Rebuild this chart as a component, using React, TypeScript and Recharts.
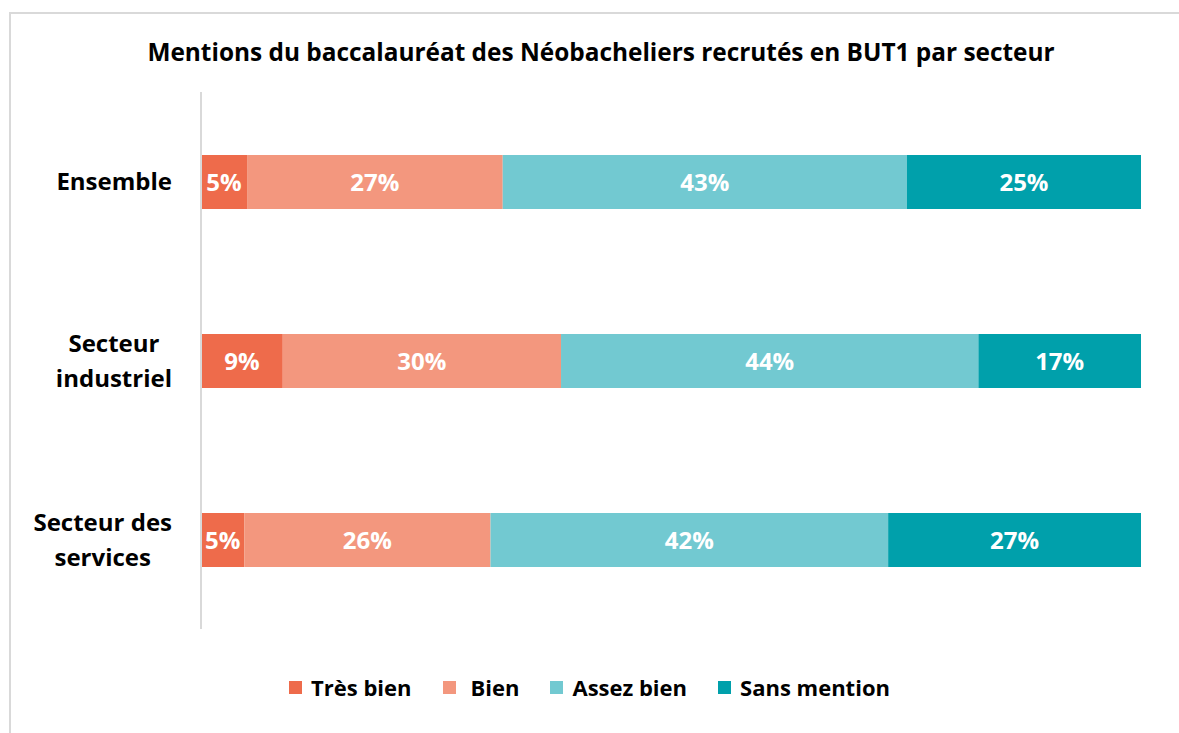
import React from 'react';
import { BarChart, Bar, XAxis, YAxis, LabelList } from 'recharts';

const title = 'Mentions du baccalauréat des Néobacheliers recrutés en BUT1 par secteur';
const categories = ['Ensemble', 'Secteur industriel', 'Secteur des services'];
const categoryLines = [['Ensemble'], ['Secteur', 'industriel'], ['Secteur des', 'services']];
const tresBien = [4.9, 8.7, 4.6];
const bien = [27.2, 29.6, 26.2];
const assezBien = [43.0, 44.4, 42.3];
const sansMention = [24.9, 17.3, 26.9];
const seriesNames = ['Très bien', 'Bien', 'Assez bien', 'Sans mention'];
const seriesKeys = ['tresBien', 'bien', 'assezBien', 'sansMention'];
const colors = ['#EE6B4B', '#F3977E', '#72C9D1', '#00A0AB'];

const data = categories.map((name, i) => ({
  name,
  tresBien: tresBien[i],
  bien: bien[i],
  assezBien: assezBien[i],
  sansMention: sansMention[i],
}));

const FONT = '"Open Sans", Lato, sans-serif';
const LABEL_SIZE = 24;

let ctx: CanvasRenderingContext2D | null = null;
function measure(text: string, font: string) {
  if (!ctx) ctx = document.createElement('canvas').getContext('2d');
  if (!ctx) return text.length * 12;
  ctx.font = font;
  return ctx.measureText(text).width;
}

const CategoryTick = (props: any) => {
  const { y, payload } = props;
  const idx = categories.indexOf(payload.value);
  const lines = categoryLines[idx] || [payload.value];
  const font = `bold ${LABEL_SIZE}px "Open Sans"`;
  const maxW = Math.max(...lines.map((l) => measure(l, font)));
  const cx = 172 - maxW / 2;
  const lh = 35;
  const startY = y - ((lines.length - 1) * lh) / 2;
  return (
    <text x={cx} y={startY} textAnchor="middle" fontFamily={FONT} fontWeight="bold" fontSize={LABEL_SIZE} fill="#000">
      {lines.map((l, i) => (
        <tspan key={i} x={cx} y={startY + i * lh} dy="0.36em">{l}</tspan>
      ))}
    </text>
  );
};

const fmt = (v: any) => `${Math.round(Number(v))}%`;

export default function App() {
  return (
    <div style={{ position: 'absolute', left: 0, top: 0, width: 1179, height: 733, overflow: 'hidden', background: '#fff', fontFamily: FONT }}>
      <div style={{ position: 'absolute', left: 9, top: 12, width: 1400, height: 900, borderLeft: '2px solid #D9D9D9', borderTop: '2px solid #D9D9D9' }} />
      <div style={{ position: 'absolute', left: 0, top: 35, width: 1202, textAlign: 'center', fontWeight: 'bold', fontSize: 24.4, color: '#000', lineHeight: '34px' }}>
        {title}
      </div>
      <div style={{ position: 'absolute', left: 0, top: 0 }}>
        <BarChart width={1179} height={733} data={data} layout="vertical" margin={{ top: 92, bottom: 104, left: 11, right: 38 }}>
          <XAxis type="number" domain={[0, 100]} hide />
          <YAxis
            type="category"
            dataKey="name"
            width={190}
            axisLine={{ stroke: '#D9D9D9', strokeWidth: 2 }}
            tickLine={false}
            tick={<CategoryTick />}
          />
          {seriesKeys.map((k, i) => (
            <Bar key={k} dataKey={k} name={seriesNames[i]} stackId="a" fill={colors[i]} barSize={54} isAnimationActive={false}>
              <LabelList dataKey={k} position="center" formatter={fmt} fill="#fff" fontFamily={FONT} fontWeight="bold" fontSize={LABEL_SIZE} />
            </Bar>
          ))}
        </BarChart>
      </div>
      <div style={{ position: 'absolute', left: 0, top: 672, width: 1179, display: 'flex', justifyContent: 'center', alignItems: 'center', fontWeight: 'bold', fontSize: 22, color: '#000', lineHeight: '30px' }}>
        {seriesNames.map((n, i) => (
          <div key={n} style={{ display: 'flex', alignItems: 'center', marginRight: i < seriesNames.length - 1 ? 31 : 0 }}>
            <span style={{ width: 13, height: 13, background: colors[i], display: 'inline-block', marginRight: i === 1 ? 15 : 9 }} />
            <span>{n}</span>
          </div>
        ))}
      </div>
    </div>
  );
}
